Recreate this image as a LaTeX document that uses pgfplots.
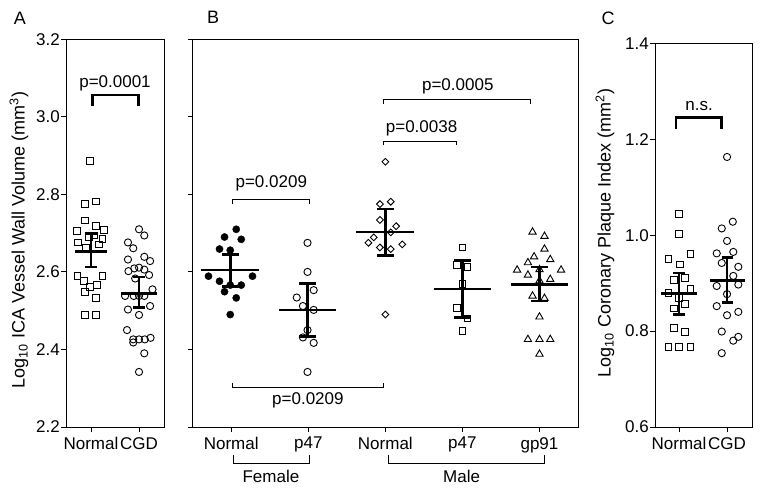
\documentclass[border=0pt]{standalone}
\usepackage{pgfplots}
\pgfplotsset{compat=1.18}
\usepackage{fontspec}
\setmainfont{Liberation Sans}
\begin{document}
\begin{tikzpicture}
\useasboundingbox (0pt,0pt) rectangle (762pt,492pt);
\pgfplotsset{
  every axis/.append style={scale only axis, anchor=south west, clip=false,
    tick pos=left, tick align=outside, major tick length=5pt,
    axis line style={line width=0.9pt}, every tick/.style={black,line width=0.9pt},
    tick label style={font=\fontsize{17}{20}\selectfont},
    yticklabel style={inner xsep=1pt}, xticklabel style={inner ysep=5pt}},
  mbar/.style={black, line width=2.7pt, mark=none, forget plot},
  sq/.style={only marks, mark=square, mark size=3.4pt, mark options={fill=white, line width=0.9pt, black}},
  ci/.style={only marks, mark=o, mark size=3.6pt, mark options={line width=0.9pt, black}},
}
% ---------------- Panel A ----------------
\begin{axis}[at={(66pt,65pt)}, width=98pt, height=387.7pt,
  xmin=-0.52, xmax=1.52, ymin=2.2, ymax=3.2,
  xtick={0,1}, xticklabels={Normal,CGD},
  ytick={2.2,2.4,2.6,2.8,3.0,3.2}, yticklabels={2.2,2.4,2.6,2.8,3.0,3.2}]
\addplot[sq] coordinates {
(-0.02,2.886) (-0.12,2.775) (0.10,2.782) (-0.12,2.733) (-0.29,2.705) (0.10,2.718)
(0.27,2.709) (-0.27,2.676) (-0.05,2.689) (0.16,2.671) (0.24,2.685) (-0.10,2.661)
(0.06,2.694) (-0.28,2.589) (0.24,2.589) (-0.14,2.576) (-0.02,2.562) (0.12,2.566)
(-0.12,2.549) (0.10,2.533) (-0.12,2.490) (0.10,2.490)};
\addplot[ci] coordinates {
(1.00,2.710) (1.11,2.694) (0.77,2.676) (0.88,2.661) (0.77,2.632) (1.11,2.639)
(1.23,2.628) (0.78,2.602) (0.90,2.609) (1.00,2.611) (1.11,2.606) (1.21,2.592)
(0.92,2.583) (1.28,2.555) (0.71,2.538) (0.89,2.538) (1.00,2.538) (1.11,2.538)
(1.23,2.512) (0.77,2.503) (1.00,2.489) (0.75,2.450) (0.88,2.426) (1.00,2.426)
(1.12,2.426) (1.24,2.430) (0.88,2.418) (1.11,2.390) (1.00,2.342)};
% Normal mean and SEM
\addplot[mbar] coordinates {(-0.33,2.652) (0.33,2.652)};
\addplot[mbar] coordinates {(0,2.613) (0,2.699)};
\addplot[mbar] coordinates {(-0.125,2.699) (0.125,2.699)};
\addplot[mbar] coordinates {(-0.125,2.613) (0.125,2.613)};
% CGD mean and SEM
\addplot[mbar] coordinates {(0.63,2.545) (1.37,2.545)};
\addplot[mbar] coordinates {(1,2.508) (1,2.587)};
\addplot[mbar] coordinates {(0.875,2.587) (1.125,2.587)};
\addplot[mbar] coordinates {(0.875,2.508) (1.125,2.508)};
\draw[line width=2.6pt] (axis cs:0.035,3.027) -- (axis cs:0.035,3.056) -- (axis cs:0.985,3.056) -- (axis cs:0.985,3.027);
\node[font=\fontsize{17}{20}\selectfont] at (axis cs:0.5,3.087) {p=0.0001};
\end{axis}
% ---------------- Panel B ----------------
\begin{axis}[at={(192.7pt,65pt)}, width=385.3pt, height=387.7pt,
  xmin=-0.5, xmax=4.5, ymin=2.2, ymax=3.2,
  xtick={0,1,2,3,4}, xticklabels={Normal,p47,Normal,p47,gp91},
  ytick={2.2,2.4,2.6,2.8,3.0,3.2}, yticklabels={}]
\addplot[only marks, mark=*, mark size=3.6pt, mark options={black, fill=black}] coordinates {
(0.065,2.710) (-0.087,2.690) (0.13,2.684) (-0.152,2.659) (-0.013,2.656) (-0.295,2.589)
(0.276,2.589) (-0.152,2.576) (-0.013,2.566) (0.13,2.566) (-0.087,2.549) (0.065,2.533)
(-0.013,2.490)};
\addplot[only marks, mark=o, mark size=3.6pt, mark options={line width=0.9pt, black}] coordinates {
(0.99,2.675) (0.99,2.600) (1.07,2.553) (0.85,2.534) (0.93,2.512) (1.07,2.502)
(0.99,2.450) (0.93,2.431) (1.07,2.417) (0.99,2.342)};
\addplot[only marks, mark=square, mark size=2.4pt, mark options={rotate=45, line width=0.9pt, black, fill=white}] coordinates {
(2.0,2.884) (1.93,2.775) (2.07,2.781) (1.93,2.734) (2.14,2.718) (1.85,2.689)
(2.07,2.702) (1.78,2.675) (1.93,2.663) (2.07,2.659) (2.22,2.671) (2.0,2.490)};
\addplot[only marks, mark=square, mark size=3.4pt, mark options={line width=0.9pt, black, fill=white}] coordinates {
(3.0,2.663) (2.93,2.618) (3.065,2.612) (3.0,2.569) (2.93,2.507) (3.065,2.480) (3.0,2.447)};
\addplot[only marks, mark=triangle, mark size=4.2pt, mark options={line width=0.9pt, black, fill=white}] coordinates {
(3.91,2.703) (4.065,2.692) (4.065,2.659) (3.93,2.639) (4.14,2.632) (3.85,2.624)
(3.71,2.605) (3.85,2.592) (4.0,2.606) (4.28,2.605) (4.14,2.581) (4.0,2.577)
(3.91,2.538) (4.065,2.532) (4.0,2.484) (3.85,2.426) (4.0,2.426) (4.14,2.426) (4.0,2.388)};
% means and SEM
\addplot[mbar] coordinates {(-0.39,2.605) (0.36,2.605)};
\addplot[mbar] coordinates {(-0.013,2.563) (-0.013,2.645)};
\addplot[mbar] coordinates {(-0.12,2.645) (0.095,2.645)};
\addplot[mbar] coordinates {(-0.12,2.563) (0.095,2.563)};
\addplot[mbar] coordinates {(0.615,2.502) (1.365,2.502)};
\addplot[mbar] coordinates {(0.99,2.433) (0.99,2.570)};
\addplot[mbar] coordinates {(0.882,2.570) (1.098,2.570)};
\addplot[mbar] coordinates {(0.882,2.433) (1.098,2.433)};
\addplot[mbar] coordinates {(1.625,2.703) (2.375,2.703)};
\addplot[mbar] coordinates {(2,2.643) (2,2.762)};
\addplot[mbar] coordinates {(1.892,2.762) (2.108,2.762)};
\addplot[mbar] coordinates {(1.892,2.643) (2.108,2.643)};
\addplot[mbar] coordinates {(2.625,2.556) (3.375,2.556)};
\addplot[mbar] coordinates {(3,2.482) (3,2.630)};
\addplot[mbar] coordinates {(2.892,2.630) (3.108,2.630)};
\addplot[mbar] coordinates {(2.892,2.482) (3.108,2.482)};
\addplot[mbar] coordinates {(3.625,2.568) (4.375,2.568)};
\addplot[mbar] coordinates {(4,2.525) (4,2.613)};
\addplot[mbar] coordinates {(3.892,2.613) (4.108,2.613)};
\addplot[mbar] coordinates {(3.892,2.525) (4.108,2.525)};
% significance brackets
\draw[line width=0.9pt] (axis cs:0.01,2.775) -- (axis cs:0.01,2.787) -- (axis cs:1.01,2.787) -- (axis cs:1.01,2.775);
\node[font=\fontsize{17}{20}\selectfont] at (axis cs:0.52,2.829) {p=0.0209};
\draw[line width=0.9pt] (axis cs:1.98,2.927) -- (axis cs:1.98,2.937) -- (axis cs:2.92,2.937) -- (axis cs:2.92,2.927);
\node[font=\fontsize{17}{20}\selectfont] at (axis cs:2.47,2.970) {p=0.0038};
\draw[line width=0.9pt] (axis cs:1.98,3.034) -- (axis cs:1.98,3.045) -- (axis cs:3.88,3.045) -- (axis cs:3.88,3.034);
\node[font=\fontsize{17}{20}\selectfont] at (axis cs:2.94,3.079) {p=0.0005};
\draw[line width=0.9pt] (axis cs:0.01,2.314) -- (axis cs:0.01,2.302) -- (axis cs:1.97,2.302) -- (axis cs:1.97,2.314);
\node[font=\fontsize{17}{20}\selectfont] at (axis cs:0.995,2.268) {p=0.0209};
% group brackets below axis
\draw[line width=0.9pt] (axis cs:0.026,2.128) -- (axis cs:0.026,2.107) -- (axis cs:1.01,2.107) -- (axis cs:1.01,2.128);
\node[font=\fontsize{17}{20}\selectfont] at (axis cs:0.515,2.072) {Female};
\draw[line width=0.9pt] (axis cs:2.04,2.128) -- (axis cs:2.04,2.107) -- (axis cs:4.07,2.107) -- (axis cs:4.07,2.128);
\node[font=\fontsize{17}{20}\selectfont] at (axis cs:2.99,2.072) {Male};
\end{axis}
% ---------------- Panel C ----------------
\begin{axis}[at={(655pt,65pt)}, width=97pt, height=383.7pt,
  xmin=-0.5, xmax=1.52, ymin=0.6, ymax=1.4,
  xtick={0,1}, xticklabels={Normal,CGD},
  ytick={0.6,0.8,1.0,1.2,1.4}, yticklabels={0.6,0.8,1.0,1.2,1.4}]
\addplot[sq] coordinates {
(0,1.044) (0,1.003) (-0.22,0.951) (0.24,0.960) (0.02,0.939) (-0.10,0.906)
(0.125,0.911) (-0.22,0.879) (0.24,0.887) (0.0,0.869) (-0.10,0.847) (0.125,0.856)
(-0.10,0.806) (0.125,0.799) (-0.22,0.767) (0,0.767) (0.24,0.767)};
\addplot[ci] coordinates {
(1.0,1.163) (1.12,1.028) (0.89,1.014) (1.0,0.988) (0.785,0.962) (1.13,0.965)
(0.89,0.942) (1.235,0.934) (1.13,0.915) (0.785,0.894) (1.235,0.897) (1.0,0.877)
(0.785,0.852) (1.0,0.833) (1.235,0.840) (0.89,0.799) (1.13,0.780) (1.235,0.788)
(0.89,0.754)};
\addplot[mbar] coordinates {(-0.37,0.879) (0.37,0.879)};
\addplot[mbar] coordinates {(0,0.835) (0,0.921)};
\addplot[mbar] coordinates {(-0.115,0.921) (0.115,0.921)};
\addplot[mbar] coordinates {(-0.115,0.835) (0.115,0.835)};
\addplot[mbar] coordinates {(0.635,0.906) (1.365,0.906)};
\addplot[mbar] coordinates {(1,0.860) (1,0.954)};
\addplot[mbar] coordinates {(0.885,0.954) (1.115,0.954)};
\addplot[mbar] coordinates {(0.885,0.860) (1.115,0.860)};
\draw[line width=2.6pt] (axis cs:-0.06,1.222) -- (axis cs:-0.06,1.245) -- (axis cs:0.89,1.245) -- (axis cs:0.89,1.222);
\node[font=\fontsize{17}{20}\selectfont] at (axis cs:0.42,1.269) {n.s.};
\end{axis}
% ---------------- labels ----------------
\node[font=\fontsize{18}{21}\selectfont] at (20pt,474pt) {A};
\node[font=\fontsize{18}{21}\selectfont] at (213pt,475pt) {B};
\node[font=\fontsize{18}{21}\selectfont] at (608pt,474pt) {C};
\node[rotate=90, font=\fontsize{18}{21}\selectfont] at (19pt,252pt) {Log\textsubscript{10} ICA Vessel Wall Volume (mm\textsuperscript{3})};
\node[rotate=90, font=\fontsize{18}{21}\selectfont] at (605pt,259pt) {Log\textsubscript{10} Coronary Plaque Index (mm\textsuperscript{2})};
\end{tikzpicture}
\end{document}
